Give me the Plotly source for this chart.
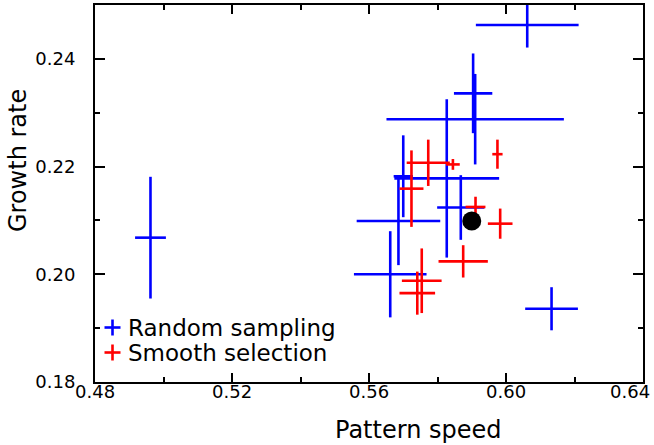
import plotly.graph_objects as go

# Random sampling (blue)
rand_x = [0.4962, 0.6062, 0.5910, 0.5904, 0.5827, 0.5686, 0.5700, 0.5868, 0.5662, 0.6133]
rand_y = [0.2068, 0.2463, 0.2288, 0.2336, 0.2178, 0.2099, 0.2182, 0.2124, 0.2000, 0.1936]
rand_ex = [0.0045, 0.0150, 0.0259, 0.0056, 0.0153, 0.0122, 0.0028, 0.0069, 0.0106, 0.0077]
rand_ey = [0.0113, 0.0042, 0.0084, 0.0074, 0.0147, 0.0082, 0.0076, 0.0060, 0.0080, 0.0040]

# Smooth selection (red)
smooth_x = [0.5773, 0.5724, 0.5845, 0.5975, 0.5911, 0.5983, 0.5875, 0.5754, 0.5741]
smooth_y = [0.2207, 0.2159, 0.2204, 0.2223, 0.2125, 0.2094, 0.2024, 0.1988, 0.1965]
smooth_ex = [0.0063, 0.0035, 0.0020, 0.0015, 0.0029, 0.0036, 0.0072, 0.0058, 0.0052]
smooth_ey = [0.0043, 0.0071, 0.0010, 0.0027, 0.0019, 0.0028, 0.0030, 0.0060, 0.0040]

# reference point (black dot)
ref_x = [0.5900]
ref_y = [0.2099]

x_ticks = [0.48, 0.52, 0.56, 0.60, 0.64]
y_ticks = [0.18, 0.20, 0.22, 0.24]

legend_names = ["Random sampling", "Smooth selection"]
legend_colors = ["#0000ff", "#ff0000"]

FONT = "DejaVu Sans"
W_PLOT = 548.0
H_PLOT = 377.0


def err_trace(x, y, ex, ey, color):
    return go.Scatter(
        x=x, y=y, mode="markers",
        marker=dict(size=1, color=color),
        error_x=dict(type="data", array=ex, width=0, thickness=2.6, color=color),
        error_y=dict(type="data", array=ey, width=0, thickness=2.6, color=color),
        showlegend=False, hoverinfo="x+y",
    )


fig = go.Figure()
fig.add_trace(err_trace(rand_x, rand_y, rand_ex, rand_ey, legend_colors[0]))
fig.add_trace(err_trace(smooth_x, smooth_y, smooth_ex, smooth_ey, legend_colors[1]))
fig.add_trace(go.Scatter(x=ref_x, y=ref_y, mode="markers",
                         marker=dict(size=19, color="black"), showlegend=False))

# hand-made legend in the lower left corner
for i, (name, color) in enumerate(zip(legend_names, legend_colors)):
    yc = (381.5 - (327 + 25 * i)) / H_PLOT
    xc = 17.5 / W_PLOT
    dx = 8 / W_PLOT
    dy = 8 / H_PLOT
    fig.add_shape(type="line", xref="paper", yref="paper", x0=xc - dx, x1=xc + dx, y0=yc, y1=yc,
                  line=dict(color=color, width=2.6))
    fig.add_shape(type="line", xref="paper", yref="paper", x0=xc, x1=xc, y0=yc - dy, y1=yc + dy,
                  line=dict(color=color, width=2.6))
    fig.add_annotation(text=name, xref="paper", yref="paper", x=31 / W_PLOT, y=yc,
                       xanchor="left", yanchor="middle", showarrow=False,
                       font=dict(family=FONT, size=23, color="black"))

# x tick labels sit close under the axis; the last one is kept inside the page
for v in x_ticks:
    last = v == x_ticks[-1]
    fig.add_annotation(text=f"{v:.2f}", xref="x", yref="paper", x=v, y=0,
                       xanchor="right" if last else "center", xshift=9 if last else 0,
                       yanchor="middle", yshift=-9, showarrow=False,
                       font=dict(family=FONT, size=18, color="black"))

fig.add_annotation(text="Pattern speed", xref="paper", yref="paper", x=(418 - 95.5) / W_PLOT, y=0,
                   xanchor="center", yanchor="middle", yshift=-48, showarrow=False,
                   font=dict(family=FONT, size=24, color="black"))
fig.add_annotation(text="Growth rate", xref="paper", yref="paper", x=(18 - 95.5) / W_PLOT,
                   y=(381.5 - 160) / H_PLOT, textangle=-90,
                   xanchor="center", yanchor="middle", showarrow=False,
                   font=dict(family=FONT, size=24, color="black"))

axis_common = dict(
    showgrid=False, zeroline=False, showline=True, linecolor="black", linewidth=2,
    mirror="ticks", ticks="inside", tickcolor="black", tickwidth=2, automargin=False,
    tickfont=dict(family=FONT, size=18, color="black"),
)

fig.update_layout(
    width=654, height=445,
    margin=dict(l=95, r=11, t=5, b=63),
    paper_bgcolor="white", plot_bgcolor="white",
    font=dict(family=FONT, color="black"),
    showlegend=False,
    xaxis=dict(
        range=[0.48, 0.64], tickvals=x_ticks, showticklabels=False,
        ticklen=9, minor=dict(dtick=0.02, tick0=0.48, ticks="inside", ticklen=5, tickwidth=2, tickcolor="black"),
        **axis_common,
    ),
    yaxis=dict(
        range=[0.18, 0.25], tickvals=y_ticks, ticktext=[f"{v:.2f}" for v in y_ticks],
        ticklabelstandoff=14,
        ticklen=10, minor=dict(dtick=0.01, tick0=0.18, ticks="inside", ticklen=5, tickwidth=2, tickcolor="black"),
        **axis_common,
    ),
)

# page body has a default 8px margin; drop it so the figure starts at the corner
fig.write_html("out.html", config={"displayModeBar": False},
               post_script="document.body.style.margin='0px';")
